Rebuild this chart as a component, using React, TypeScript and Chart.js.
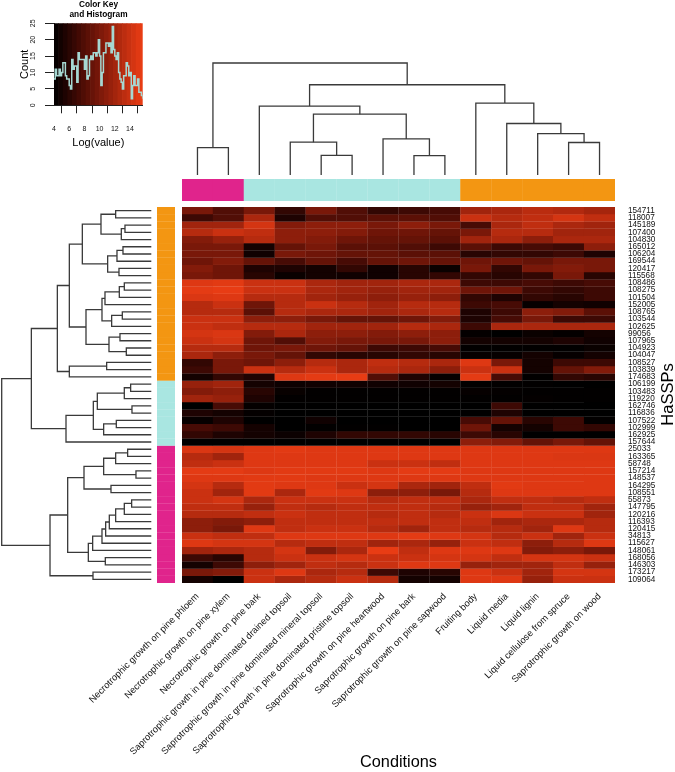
import React, { useEffect, useRef } from "react";
import { Chart, registerables } from "chart.js";

Chart.register(...registerables);
const FONT = "'Liberation Sans', Arial, sans-serif";
Chart.defaults.font.family = FONT;
Chart.defaults.color = "#000";

const conditions = [
  "Necrotrophic growth on pine phloem", "Necrotrophic growth on pine xylem", "Necrotrophic growth on pine bark",
  "Saprotrophic growth in pine dominated drained topsoil", "Saprotrophic growth in pine dominated mineral topsoil",
  "Saprotrophic growth in pine dominated pristine topsoil", "Saprotrophic growth on pine heartwood",
  "Saprotrophic growth on pine bark", "Saprotrophic growth on pine sapwood", "Fruiting body", "Liquid media",
  "Liquid lignin", "Liquid cellulose from spruce", "Saprotrophic growth on wood",
];
const rowIds = [
  "154711","118007","145189","107400","104830","165012","106204","169544","120417","115568","108486","108275","101504",
  "152005","108765","103544","102625","99056","107965","104923","104047","108527","103839","174683","106199","103483",
  "119220","162746","116836","107522","102999","162925","157644","25033","163365","58748","157214","148537","164295",
  "108551","55873","147795","120216","116393","120415","34813","115627","148061","168056","146303","173217","109064",
];
const matrix = [
  [10,8,10,6.5,10,8,6.5,7,7.5,12,12.5,13.2,12.8,12.2],
  [7,8,12.5,5.5,8,8,8.5,8.5,8,14,13,13.5,14.5,13.5],
  [12,12,14.5,10.5,11,11,10,11,10,7.5,12.5,13.5,12.5,12],
  [13,14,13.5,11,11,10.5,9.5,9.5,9,10,13,13,12,12],
  [10.5,11.5,13,11,10.5,9.5,9,9,8.5,12,12.5,11,12.5,12.5],
  [10,10,5,9,10,8.5,8.5,8,7,8.5,7,7.5,7,11],
  [10,10,4.8,10,9.5,9,9,8.5,8.5,6,6.5,6.5,7,5.5],
  [9.5,10.5,9,7.5,9,7.5,9,9.5,9,9.5,9.5,9,10,10],
  [10.5,9.5,5.5,5.5,5,6.5,4.8,6,4.5,10,6.5,10,10.5,10],
  [10,9.5,6,4.5,5,4.8,4.8,6,6.5,6.5,6,6.5,10,6],
  [15,15.2,14,14,12.5,12,12,12.5,12.5,7,7,7.5,7,7.5],
  [15.3,15.5,14,14,12.5,12,11.5,12,12,9.5,9.5,7,6.5,7],
  [14.8,15,13,13,12,11.5,11,11.5,11,6.5,5.5,6.5,6,7],
  [13,14,9.5,13,14,13,12,13,13,7,7.5,4.3,5,4.8],
  [13,13,8.5,13,12.5,12.5,12,12.5,13,5.5,7,11,10.5,8.5],
  [14,14,11,11,10,9,9,9.5,10.5,5.5,7.5,10,7,7],
  [14,13.5,13,13,12,12,12,13,12.5,7,12.5,12.5,12.5,12.5],
  [14.5,14.8,10.5,12.5,11,11,10.5,11,11,4.2,4,4.5,4.2,5],
  [14,14.5,9.5,8,10.5,10,10,10,11,5,5,5,5.5,4.8],
  [13,13,9.5,10,9.5,9,7,7,7.5,4.1,4.1,4.1,4.1,4.5],
  [12.5,11,10,9,6.5,6,6,6.5,6,4.3,4.3,5,4.3,5],
  [6.5,10,9.5,11,13,12.5,13.5,13,12.5,15,10,5,7,7],
  [7,10,14,13,14,12.5,13,12.5,11,14,14,5,9,10.5],
  [5,6.5,5.5,15,15.3,15.5,8,5.5,4.3,15.3,7.5,4.1,6.5,6],
  [11.5,12,5,4.6,4.8,4.8,4.8,4.8,5,4.1,4.1,4.1,4,4],
  [10.5,11,6,4.4,4.1,4.1,4.1,4.1,4.1,4.3,4.2,4.1,4.1,4.1],
  [12,11.5,5.5,4.1,4.1,4.1,4.1,4.1,4.1,4.1,4.1,4.2,4.1,4.1],
  [4,7.5,4.2,4,4,4,4,4,4,4,7,4,4,4],
  [5.5,5,4.2,4,4,4,4,4,4,4,5.5,4,4,4],
  [4.3,5.5,4,4,4.8,4,4,4,4,7.5,9,6,7,4.1],
  [7.5,7,5,4,4.1,4.1,4.1,4,4,9.5,5,5,7,6.5],
  [6.5,5.5,5,4.6,5.5,6.5,6.5,6.5,6,7,6,4,4,4],
  [4,4,4,4,4,4,4,4,4,11,10.5,9,10,9],
  [14.8,14.5,15,15.2,15,15,15,15,15,15,15,15,15,15],
  [13,12,15,15,15,15,15,15,15,15,15,15,14.8,14.8],
  [13.5,14,15,15,15,15,14,14,13.5,15,15,15,15,15],
  [15.3,15.3,15,15.2,15.2,15.2,15,15.3,15.3,15,15,15,15,15],
  [15,15,15.2,15.2,15,15,15,15,15,15,15,15,15,15],
  [14.5,13,15.2,15,15,14,14.5,12.5,12,13.5,15.2,15,15,15],
  [14,12,15.2,12.5,15.2,15,11,11,10,13,15,15,15,15],
  [14,14.5,12.5,14,14,14,13,13.5,13.5,12.5,13.5,13.5,13,13.5],
  [13.5,13.5,11.5,13.5,13,13.5,13.5,13.5,13,11.5,12,13.5,13.5,12],
  [13,13,13.5,14,13.5,13.5,13,13.5,13,14,14.8,14,14,12],
  [11,10.5,11,13.5,13.5,13.5,13.5,13.5,13.5,13.5,12,12.5,12.5,13],
  [11,10,15,13.5,14,14,13,12,13.5,13,13,12,15,13],
  [14,13.5,13.5,15,15,15,15,15.3,15,14.5,13,14,12,14],
  [15,14.5,14.5,13,13.5,13.5,12,12.5,11.5,14,13.5,11,13,15],
  [12,12.5,13,14.5,10.5,12.5,15.5,13.5,15,15,15,10.5,11,10],
  [7,6,13,14,14,14.5,14,14,14.5,14.5,13.5,14.5,14.5,14],
  [5,7,11,12,13.5,13,14,15,15,11.5,12,12,13.5,11.5],
  [10,10.5,14,15,12.5,13,7,5.5,6,15,14,12,14.5,14.5],
  [5,4,14,12.5,13,14,13,5,5,15,15,11.5,14,14],
];
const colGroups = ["P","P","C","C","C","C","C","C","C","O","O","O","O","O"];
const rowGroups = [
  "O","O","O","O","O","O","O","O","O","O","O","O","O","O","O","O","O","O","O","O","O","O","O","O",
  "C","C","C","C","C","C","C","C","C",
  "P","P","P","P","P","P","P","P","P","P","P","P","P","P","P","P","P","P","P","P",
];
const groupColors: Record<string, string> = { P: "#E0248C", C: "#A9E6E1", O: "#F39612" };

// dendrograms: [left, right, height]; a plain number is a 1-based leaf
type Tree = number | [Tree, Tree, number];
const colTree: Tree = [
  [1, 2, 24.5],
  [
    [3, [[4, [5, 6, 17.6], 29.3], [7, [8, 9, 17.3], 32.2], 54.3], 61.5],
    [10, [11, [12, [13, 14, 29], 37], 46], 64.2],
    80.6,
  ],
  100,
];
const orangeTree: Tree = [
  [
    [
      [[1, 2, 107], [[3, 4, 79], 5, 90], 151],
      [[[6, 7, 85], 8, 103], [9, 10, 97], 131],
      207,
    ],
    [[[[[11, 12, 81], 13, 96], 14, 139], [[15, 16, 87], 17, 119], 148], [[18, 19, 94], [20, 21, 75], 127], 196],
    246,
  ],
  [[22, 23, 134], 24, 246],
  282,
];
const cyanTree: Tree = [
  [[[[25, 26, 62], 27, 81], [28, 29, 58], 162], [[30, 31, 105], 32, 143], 174],
  33,
  256,
];
const pinkTree: Tree = [
  [
    [[[[34, 35, 71], 36, 107], [37, 38, 46], 143], [39, 40, 121], 202],
    [[[[[[[[41, 42, 59], 43, 81], 44, 107], 45, 126], 46, 137], 47, 148], 48, 176], [49, 50, 138], 189],
    251,
  ],
  [51, 52, 175],
  304,
];
const rowTree: Tree = [[orangeTree, cyanTree, 360], pinkTree, 449];

const keyBands = [4.3,4.9,5.5,6.1,6.7,7.3,7.9,8.5,9.1,9.7,10.3,10.9,11.5,12.1,12.7,13.3,13.9,14.5,15.1,15.7];
const histCounts = [8,11,9,9,11,9,10,13,13,9,8,8,6,5,14,11,12,12,7,16,14,14,14,14,11,15,8,9,14,15,14,16,16,15,16,20,15,6,10,16,16,19,19,18,19,16,24,17,15,14,16,10,8,7,5,9,9,13,12,9,10,2,6,9,6,6,8,4,4,3,2];
const histStart = 4;
const histStep = 1 / 6;

function cellColor(v: number) {
  const t = Math.max(0, Math.min(1, (v - 4) / 11.5));
  return `rgb(${Math.round(232 * t)},${Math.round(60 * Math.pow(t, 1.4))},${Math.round(20 * Math.pow(t, 1.2))})`;
}

function treeSegments(t: Tree, out: { p: number; h: number }[][]): { p: number; h: number } {
  if (typeof t === "number") return { p: t - 0.5, h: 0 };
  const l = treeSegments(t[0], out);
  const r = treeSegments(t[1], out);
  const h = t[2];
  out.push([{ p: l.p, h: l.h }, { p: l.p, h }, { p: r.p, h }, { p: r.p, h: r.h }]);
  return { p: (l.p + r.p) / 2, h };
}

const quiet = { legend: { display: false }, tooltip: { enabled: false }, title: { display: false } };
const lineStyle = {
  showLine: true, pointRadius: 0, borderColor: "#3a3a3a", borderWidth: 1.3, tension: 0,
  borderJoinStyle: "miter", borderCapStyle: "butt", fill: false, clip: false,
};

const yLabel = {
  id: "hasspsLabel",
  afterDraw(chart: any) {
    const c = chart.ctx;
    c.save();
    c.translate(673, 394.5);
    c.rotate(-Math.PI / 2);
    c.font = `16.5px ${FONT}`;
    c.fillStyle = "#000";
    c.textAlign = "center";
    c.textBaseline = "alphabetic";
    c.fillText("HaSSPs", 0, 0);
    c.restore();
  },
};

const box = (left: number, top: number, width: number, height: number): React.CSSProperties => ({
  position: "absolute", left, top, width, height, display: "block",
});

export default function App() {
  const heatRef = useRef<HTMLCanvasElement>(null);
  const keyRef = useRef<HTMLCanvasElement>(null);
  const colDendRef = useRef<HTMLCanvasElement>(null);
  const rowDendRef = useRef<HTMLCanvasElement>(null);
  const topBarRef = useRef<HTMLCanvasElement>(null);
  const sideBarRef = useRef<HTMLCanvasElement>(null);

  useEffect(() => {
    const charts: Chart[] = [];

    charts.push(new Chart(heatRef.current!, {
      type: "bar",
      data: {
        labels: conditions,
        datasets: matrix.map((row, i) => ({
          label: rowIds[i],
          data: row.map(() => 1),
          backgroundColor: row.map(cellColor),
          borderWidth: 0,
          inflateAmount: 0.12,
          barPercentage: 1,
          categoryPercentage: 1,
          yAxisID: "y",
        })),
      },
      options: {
        animation: false, responsive: false,
        layout: { padding: { left: 182, top: 207, right: 0, bottom: 0 } },
        plugins: quiet,
        scales: {
          x: {
            stacked: true,
            grid: { display: false, drawTicks: false },
            border: { display: false },
            ticks: { autoSkip: false, minRotation: 45, maxRotation: 45, padding: 8, font: { size: 9.4 }, color: "#111" },
            title: { display: true, text: "Conditions", font: { size: 16.3 }, padding: { top: 0, bottom: 0 } },
            afterFit: (s: any) => { s.height = 189; },
          },
          y: { stacked: true, reverse: true, min: 0, max: 52, display: false },
          y2: {
            type: "category", labels: rowIds, position: "right", offset: true,
            grid: { display: false, drawTicks: false },
            border: { display: false },
            ticks: { autoSkip: false, padding: 13, font: { size: 8.2 }, color: "#111", maxRotation: 0 },
            afterFit: (s: any) => { s.width = 60; },
          },
        },
      } as any,
      plugins: [yLabel],
    }));

    charts.push(new Chart(topBarRef.current!, {
      type: "bar",
      data: {
        labels: conditions,
        datasets: [{
          data: colGroups.map(() => 1),
          backgroundColor: colGroups.map((g) => groupColors[g]),
          borderWidth: 0, inflateAmount: 0.12, barPercentage: 1, categoryPercentage: 1,
        }],
      },
      options: {
        animation: false, responsive: false, plugins: quiet,
        scales: { x: { display: false }, y: { display: false, min: 0, max: 1 } },
      } as any,
    }));

    charts.push(new Chart(sideBarRef.current!, {
      type: "bar",
      data: {
        labels: ["group"],
        datasets: rowGroups.map((g) => ({
          data: [1], backgroundColor: groupColors[g],
          borderWidth: 0, inflateAmount: 0.12, barPercentage: 1, categoryPercentage: 1,
        })),
      },
      options: {
        animation: false, responsive: false, plugins: quiet,
        scales: {
          x: { display: false, stacked: true },
          y: { display: false, stacked: true, reverse: true, min: 0, max: 52 },
        },
      } as any,
    }));

    const colSegs: { p: number; h: number }[][] = [];
    treeSegments(colTree, colSegs);
    charts.push(new Chart(colDendRef.current!, {
      type: "scatter",
      data: { datasets: colSegs.map((s) => ({ ...lineStyle, data: s.map((q) => ({ x: q.p, y: q.h })) })) },
      options: {
        animation: false, responsive: false, plugins: quiet,
        layout: { padding: { top: 2, bottom: 2, left: 0, right: 0 } },
        scales: { x: { display: false, min: 0, max: 14 }, y: { display: false, min: 0, max: 100 } },
      } as any,
    }));

    const rowSegs: { p: number; h: number }[][] = [];
    treeSegments(rowTree, rowSegs);
    charts.push(new Chart(rowDendRef.current!, {
      type: "scatter",
      data: { datasets: rowSegs.map((s) => ({ ...lineStyle, data: s.map((q) => ({ x: q.h, y: q.p })) })) },
      options: {
        animation: false, responsive: false, plugins: quiet,
        layout: { padding: { left: 1.7, right: 1.7, top: 0, bottom: 0 } },
        scales: {
          x: { display: false, min: 0, max: 449, reverse: true },
          y: { display: false, min: 0, max: 52, reverse: true },
        },
      } as any,
    }));

    charts.push(new Chart(keyRef.current!, {
      type: "bar",
      data: {
        datasets: [
          {
            type: "line",
            data: histCounts.map((c, i) => ({ x: histStart + i * histStep, y: c })),
            stepped: true, borderColor: "#A6D8D2", borderWidth: 1.5, pointRadius: 0, fill: false, order: 0,
          },
          {
            type: "bar",
            data: keyBands.map((b) => ({ x: b, y: 25 })),
            backgroundColor: keyBands.map(cellColor),
            borderWidth: 0, barPercentage: 1, categoryPercentage: 1, order: 1,
          },
        ],
      },
      options: {
        animation: false, responsive: false,
        plugins: {
          legend: { display: false }, tooltip: { enabled: false },
          title: {
            display: true, text: ["Color Key", "and Histogram"],
            font: { size: 8.3, weight: "bold" }, lineHeight: 1.2, color: "#000",
            padding: { top: 0, bottom: 3.4 },
          },
        },
        scales: {
          x: {
            type: "linear", offset: false, min: 4, max: 15.67,
            grid: { drawOnChartArea: false, drawTicks: true, tickLength: 8, color: "#222" },
            border: { display: true, color: "#222" },
            afterBuildTicks: (s: any) => { s.ticks = [4, 6, 8, 10, 12, 14].map((v) => ({ value: v })); },
            ticks: { font: { size: 7 }, padding: 12, maxRotation: 0, color: "#111" },
            title: { display: true, text: "Log(value)", font: { size: 11 }, padding: { top: 0, bottom: 0.4 } },
            afterFit: (s: any) => { s.height = 44.7; },
          },
          y: {
            min: 0, max: 25,
            grid: { drawOnChartArea: false, drawTicks: true, tickLength: 9, color: "#222" },
            border: { display: true, color: "#222" },
            ticks: { stepSize: 5, font: { size: 7 }, padding: 8, minRotation: 90, maxRotation: 90, crossAlign: "center", color: "#111" },
            title: { display: true, text: "Count", font: { size: 11 }, padding: { top: 18.4, bottom: 0 } },
            afterFit: (s: any) => { s.width = 54; },
          },
          y2: {
            position: "right",
            grid: { display: false }, border: { display: false }, ticks: { display: false },
            afterFit: (s: any) => { s.width = 54.3; },
          },
        },
      } as any,
    }));

    return () => charts.forEach((c) => c.destroy());
  }, []);

  return (
    <div style={{ position: "fixed", left: 0, top: 0, width: 675, height: 772, background: "#fff", overflow: "hidden" }}>
      <canvas ref={heatRef} width={675} height={772} style={box(0, 0, 675, 772)} />
      <canvas ref={keyRef} width={197} height={150} style={box(0, 0, 197, 150)} />
      <canvas ref={colDendRef} width={433} height={116} style={box(182, 61, 433, 116)} />
      <canvas ref={rowDendRef} width={153} height={376} style={box(0, 207, 153, 376)} />
      <canvas ref={topBarRef} width={433} height={22} style={box(182, 179, 433, 22)} />
      <canvas ref={sideBarRef} width={18} height={376} style={box(157, 207, 18, 376)} />
    </div>
  );
}
